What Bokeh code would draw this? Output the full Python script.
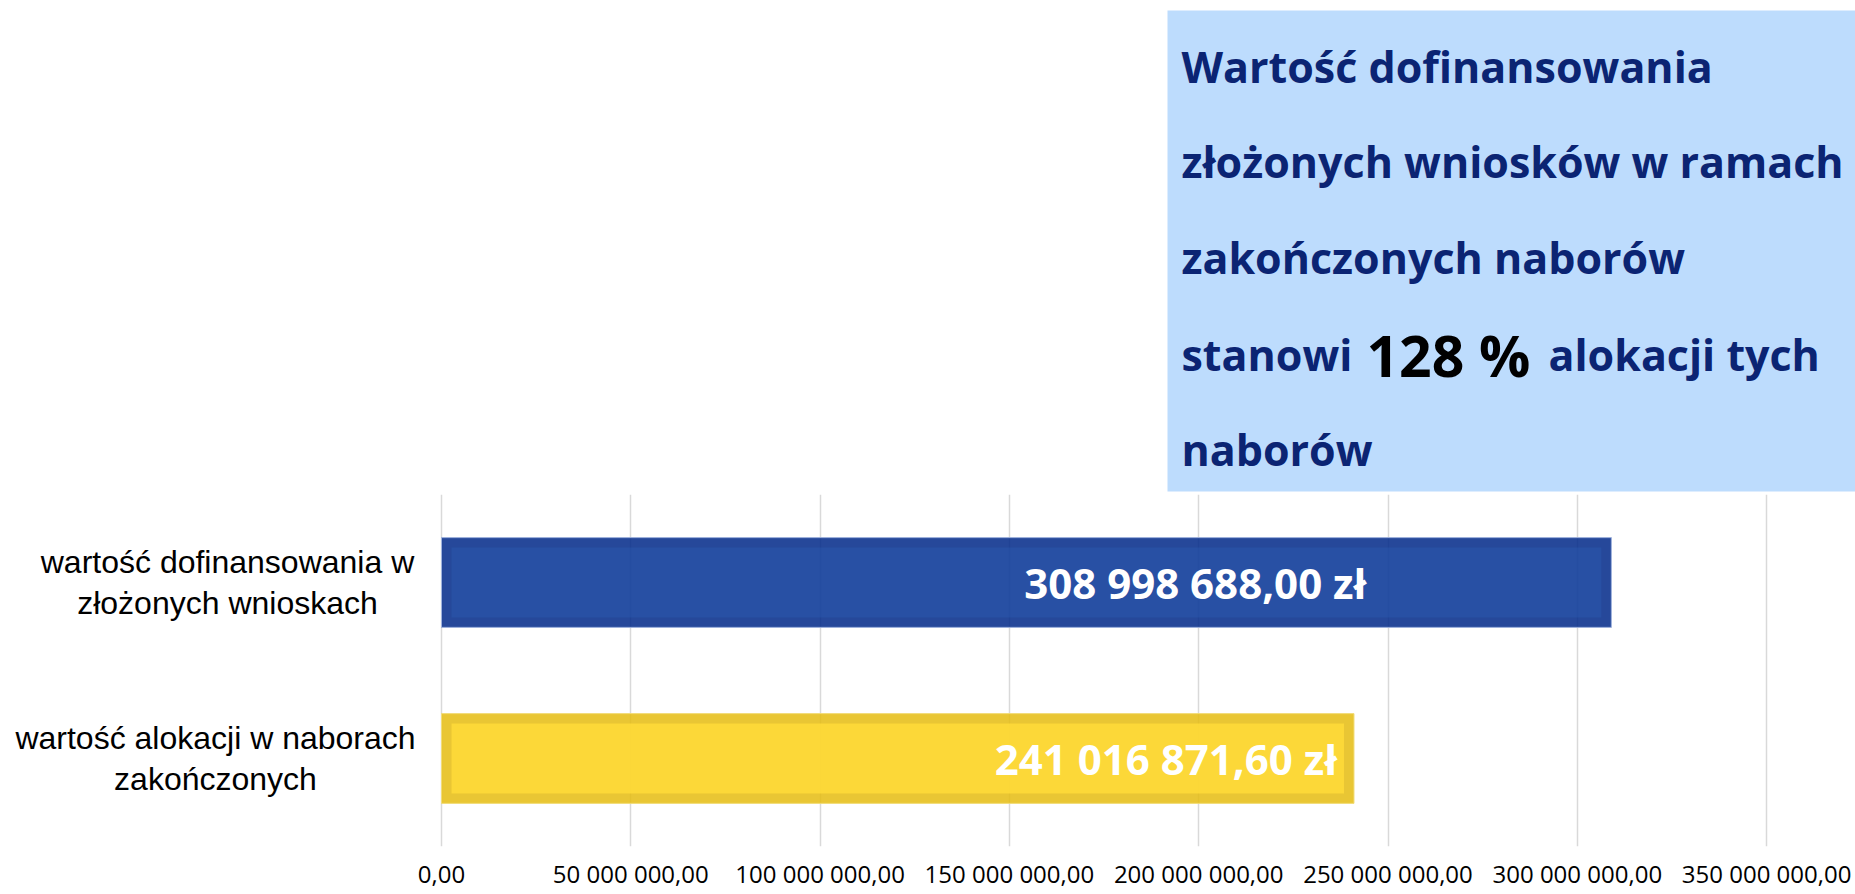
from bokeh.plotting import figure
from bokeh.layouts import column
from bokeh.models import Range1d, FactorRange, FixedTicker, ColumnDataSource
from bokeh.core.properties import value
from bokeh.embed import file_html
from bokeh.resources import INLINE

# ---------------- data ----------------
CATEGORIES = ["wartość alokacji w naborach\nzakończonych",
              "wartość dofinansowania w\nzłożonych wnioskach"]
VALUES = [241016871.60, 308998688.00]
TICKS = [0, 50_000_000, 100_000_000, 150_000_000, 200_000_000,
         250_000_000, 300_000_000, 350_000_000]
TICK_LABELS = ["0,00", "50 000 000,00", "100 000 000,00", "150 000 000,00",
               "200 000 000,00", "250 000 000,00", "300 000 000,00", "350 000 000,00"]
PERCENT = "128 %"

# ---------------- styles / layout ----------------
EDGE = ["#E5BC11", "#002888"]         # outer band colour (translucent)
EDGE_ALPHA = 0.85
FILL = ["#FFDB39", "#2A58AE"]         # inner face colour (translucent, over the band)
FILL_ALPHA = [0.85, 0.5]
OUTLINE = ["#F2DC78", "#9FB2DD"]
LABEL_OFFSETS = [-17, -245]           # px from bar end
CAT_LABEL_CENTER_PX = [215, 227]      # centre of each category label block (page px)
NAVY = "#0B2473"

W = 1855
TOP_H = 494                           # height of the statement panel
BOT_H = 400                           # height of the bar chart panel
ZERO_PX = 441                         # page x of value 0
RIGHT = 10
PX_PER_VAL = 189.3 / 50_000_000
X_START = -ZERO_PX / PX_PER_VAL
X_END = (W - RIGHT - ZERO_PX) / PX_PER_VAL
ROW_PX = 176.0
BAR_H = 0.51
INSET_PX = 10


def fmt(v):
    return f"{v:,.2f}".replace(",", " ").replace(".", ",") + " zł"


def xd(px):
    return (px - ZERO_PX) / PX_PER_VAL


# ================= top panel: statement box =================
top = figure(frame_width=W, frame_height=TOP_H, output_backend="svg",
             toolbar_location=None, title=None,
             x_range=Range1d(0, W), y_range=Range1d(TOP_H, 0),
             x_axis_type=None, y_axis_type=None,
             min_border=0, min_border_left=0, min_border_right=0,
             min_border_top=0, min_border_bottom=0)
top.outline_line_color = None
top.grid.visible = False
top.quad(left=[1167], right=[W + 50], top=[10], bottom=[491],
         fill_color="#BDDCFD", line_color=None)

normal = dict(x=[1181, 1181, 1181, 1181, 1548, 1181],
              y=[66, 161, 257, 354, 354, 449],
              t=["Wartość dofinansowania", "złożonych wniosków w ramach",
                 "zakończonych naborów", "stanowi", "alokacji tych", "naborów"])
top.text(x="x", y="y", text="t", source=ColumnDataSource(normal),
         text_font=value("Open Sans"), text_font_style="bold",
         text_font_size="43px", text_color=NAVY,
         text_align="left", text_baseline="alphabetic")
top.text(x=[1366], y=[354], text=[PERCENT],
         text_font=value("Open Sans"), text_font_style="bold",
         text_font_size="57px", text_color="#000000",
         text_align="left", text_baseline="alphabetic")

# ================= bottom panel: bar chart =================
inset_val = INSET_PX / PX_PER_VAL
src = ColumnDataSource(dict(
    cat=CATEGORIES,
    val=VALUES,
    inner_left=[inset_val] * len(VALUES),
    inner_right=[v - inset_val for v in VALUES],
    fill=FILL,
    fill_alpha=FILL_ALPHA,
    edge=EDGE,
    outline=OUTLINE,
    label=[fmt(v) for v in VALUES],
    xoff=LABEL_OFFSETS,
    cat_x=[xd(c) for c in CAT_LABEL_CENTER_PX],
))

p = figure(width=W, height=BOT_H, output_backend="svg", toolbar_location=None,
           title=None,
           y_range=FactorRange(*CATEGORIES), x_range=Range1d(X_START, X_END),
           min_border_left=0, min_border_top=0,
           min_border_bottom=48, min_border_right=RIGHT)
p.outline_line_color = None

# outer band (whole bar), then lighter inner face
p.hbar(y="cat", left=0, right="val", height=BAR_H, source=src,
       fill_color="edge", fill_alpha=EDGE_ALPHA,
       line_color="outline", line_width=1)
p.hbar(y="cat", left="inner_left", right="inner_right",
       height=BAR_H - 2 * INSET_PX / ROW_PX, source=src,
       fill_color="fill", fill_alpha="fill_alpha", line_color=None)

p.text(x="val", y="cat", text="label", x_offset="xoff", source=src,
       text_align="right", text_baseline="middle",
       text_font=value("Open Sans"), text_font_style="bold",
       text_font_size="42px", text_color="white")

# category labels (centred multi-line blocks, left of the bars)
p.text(x="cat_x", y="cat", text="cat", source=src,
       text_align="center", text_baseline="middle", text_line_height=1.12,
       text_font=value("Liberation Sans"), text_font_size="32px",
       text_color="#000000")

p.yaxis.visible = False
p.xaxis.ticker = FixedTicker(ticks=TICKS)
p.xaxis.major_label_overrides = {t: l for t, l in zip(TICKS, TICK_LABELS)}
p.xaxis.axis_line_color = None
p.xaxis.major_tick_line_color = None
p.xaxis.minor_tick_line_color = None
p.xaxis.major_tick_out = 0
p.xaxis.major_tick_in = 0
p.xaxis.minor_tick_out = 0
p.xaxis.major_label_text_font = "Open Sans"
p.xaxis.major_label_text_font_size = "24px"
p.xaxis.major_label_text_color = "#000000"
p.xaxis.major_label_standoff = 10

p.xgrid.grid_line_color = "#D9D9D9"
p.xgrid.grid_line_width = 1.5
p.ygrid.grid_line_color = None

layout = column(top, p, spacing=0)
open("out.html", "w").write(file_html(layout, INLINE))
